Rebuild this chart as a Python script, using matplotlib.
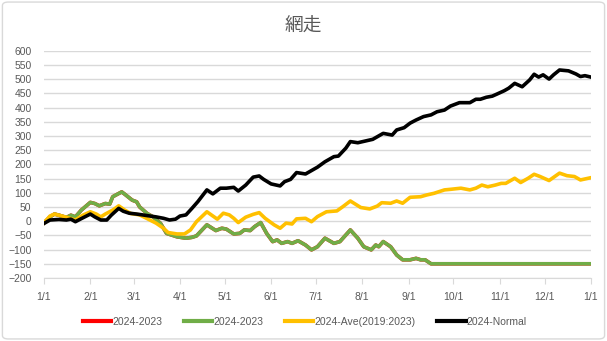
import matplotlib.pyplot as plt
from matplotlib.patches import FancyBboxPatch

# Tick labels / month starts (day offset from 2024-01-01)
month_days = [0, 31, 60, 91, 121, 152, 182, 213, 244, 274, 305, 335, 366]
month_labels = ['1/1', '2/1', '3/1', '4/1', '5/1', '6/1', '7/1', '8/1',
                '9/1', '10/1', '11/1', '12/1', '1/1']

# 2024-Normal
normal_days = [0, 4, 10, 15, 18, 21, 25, 31, 34, 38, 42, 45, 50, 53, 57, 62, 66,
               71, 75, 80, 84, 88, 91, 95, 99, 103, 109, 113, 118, 122, 127, 130,
               135, 140, 144, 147, 152, 158, 161, 165, 169, 175, 179, 183, 188,
               194, 197, 202, 205, 210, 215, 220, 223, 227, 233, 236, 241, 245,
               249, 254, 259, 263, 268, 272, 278, 285, 289, 292, 296, 300, 303,
               308, 311, 315, 320, 325, 328, 331, 334, 338, 341, 345, 351, 356,
               359, 362, 366]
normal_vals = [-8, 4, 6, 4, 7, -2, 9, 25, 15, 4, 4, 21, 45, 35, 28, 25, 22,
               18, 15, 10, 4, 7, 18, 22, 45, 69, 110, 96, 116, 116, 119, 106,
               127, 155, 159, 147, 131, 124, 139, 147, 171, 166, 178, 190, 209,
               227, 229, 257, 280, 276, 282, 288, 297, 309, 303, 321, 329, 345,
               356, 368, 374, 385, 391, 405, 417, 417, 429, 429, 436, 440, 447,
               459, 468, 485, 473, 497, 517, 507, 515, 500, 515, 532, 529, 518,
               509, 512, 507]

# 2024-Ave(2019:2023)
ave_days = [0, 4, 7, 12, 18, 21, 26, 31, 35, 38, 41, 46, 50, 54, 58, 64, 69,
            75, 80, 83, 89, 94, 98, 102, 109, 116, 120, 124, 127, 130, 135, 140,
            144, 148, 154, 158, 162, 166, 169, 175, 179, 183, 189, 196, 200,
            205, 212, 218, 223, 226, 232, 236, 240, 245, 252, 256, 261, 268,
            272, 279, 285, 289, 293, 297, 302, 306, 309, 315, 319, 324, 328,
            332, 338, 345, 350, 355, 359, 366]
ave_vals = [-6, 18, 25, 18, 9, 4, 21, 33, 25, 15, 25, 39, 54, 39, 27, 22, 9,
            -7, -25, -40, -45, -45, -31, -2, 33, 7, 28, 22, 10, -5, 14, 24,
            30, 10, -13, -25, -7, -10, 8, 10, -2, 16, 33, 36, 51,
            71, 48, 43, 53, 65, 63, 71, 63, 84, 86, 92, 98, 110,
            112, 116, 110, 116, 127, 121, 127, 133, 133, 151, 136, 151, 165,
            157, 143, 169, 160, 157, 145, 153]

# 2024-2023
diff_days = [0, 4, 7, 10, 15, 18, 21, 25, 31, 34, 37, 41, 44, 46, 52, 54, 59,
             62, 64, 69, 73, 78, 82, 89, 95, 99, 102, 109, 115, 119, 122, 127,
             131, 134, 138, 141, 145, 149, 153, 156, 159, 163, 166, 170, 175,
             179, 183, 188, 194, 198, 205, 210, 214, 219, 222, 224, 227, 232,
             236, 240, 245, 249, 252, 255, 259, 366]
diff_vals = [-6, 15, 25, 21, 13, 21, 15, 39, 66, 62, 54, 62, 60, 86, 103, 95, 74,
             68, 50, 27, 15, -8, -43, -55, -60, -57, -52, -13, -33, -25, -28, -45,
             -43, -31, -33, -19, -5, -43, -72, -66, -78, -72, -78, -69, -84,
             -101, -90, -60, -78, -72, -31, -60, -90, -101, -84, -90, -72, -90,
             -119, -136, -136, -131, -136, -136, -150, -150]

plt.rcParams['font.family'] = ['Liberation Sans', 'DejaVu Sans']
TXT = '#595959'

fig = plt.figure(figsize=(6.07, 3.41), dpi=100)
ax = fig.add_axes([0.0725, 0.1848, 0.901, 0.6666])

ax.plot(diff_days, diff_vals, color='#FF0000', lw=2.6, label='2024-2023')
ax.plot(diff_days, diff_vals, color='#70AD47', lw=2.6, label='2024-2023')
ax.plot(ave_days, ave_vals, color='#FFC000', lw=2.6, label='2024-Ave(2019:2023)')
ax.plot(normal_days, normal_vals, color='#000000', lw=2.6, label='2024-Normal')

ax.set_xlim(0, 366)
ax.set_ylim(-200, 600)
ax.set_yticks(range(-200, 601, 50))
ax.set_xticks(month_days)
ax.set_xticklabels(month_labels)
ax.grid(axis='y', color='#D9D9D9', lw=1)
ax.set_axisbelow(True)
for s in ['top', 'right', 'left']:
    ax.spines[s].set_visible(False)
ax.spines['bottom'].set_color('#D9D9D9')
ax.tick_params(axis='y', length=0, pad=9, labelsize=7.5, labelcolor=TXT)
ax.tick_params(axis='x', length=4, color='#D9D9D9', pad=6, labelsize=7.5,
               labelcolor=TXT)

fig.text(0.5, 1 - 26 / 341, '網走', ha='center', va='center', fontsize=13.5,
         color=TXT, family=['Noto Sans CJK JP', 'DejaVu Sans'])

leg = fig.legend(loc='center', bbox_to_anchor=(305 / 607, 1 - 322 / 341), ncol=4,
                 frameon=False, fontsize=7.5, handlelength=2.7, handletextpad=0.1,
                 columnspacing=2.1, labelcolor=TXT)
for h in leg.get_lines():
    h.set_linewidth(3)

fig.patches.append(FancyBboxPatch((0.004, 0.006), 0.992, 0.988,
                                  boxstyle='round,pad=0,rounding_size=0.01',
                                  transform=fig.transFigure, fill=False,
                                  edgecolor='#D9D9D9', lw=1))

fig.savefig('out.png', dpi=100)
